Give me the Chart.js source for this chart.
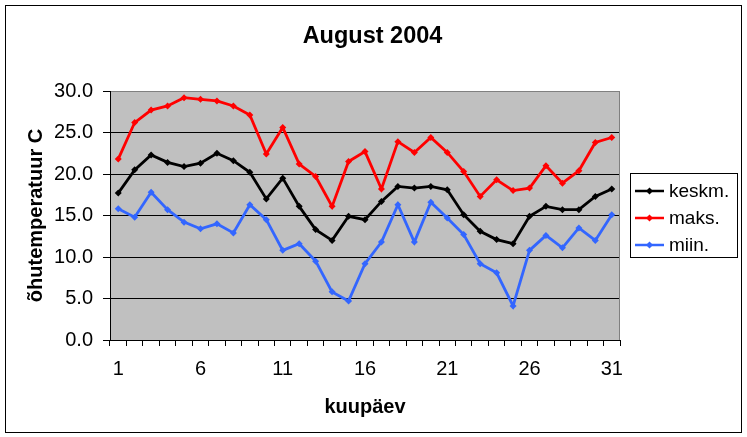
<!DOCTYPE html>
<html>
<head>
<meta charset="utf-8">
<title>August 2004</title>
<script src="https://cdn.jsdelivr.net/npm/chart.js@4.4.1/dist/chart.umd.min.js"></script>
<style>
  html, body { margin: 0; padding: 0; background: #fff; }
  #wrap { width: 747px; height: 437px; }
</style>
</head>
<body>
<div id="wrap"><canvas id="tempChart" width="747" height="437"></canvas></div>
<script>
// --- 1. DATA ---
const days = ['1', '2', '3', '4', '5', '6', '7', '8', '9', '10', '11', '12', '13', '14', '15', '16',
              '17', '18', '19', '20', '21', '22', '23', '24', '25', '26', '27', '28', '29', '30', '31'];
const shownDays = ['1', '6', '11', '16', '21', '26', '31'];
const yTicks = [0, 5, 10, 15, 20, 25, 30];

const keskm = [17.7, 20.5, 22.3, 21.4, 20.9, 21.3, 22.5, 21.6, 20.2, 17.0, 19.5, 16.1, 13.3, 12.0, 14.9, 14.5,
               16.7, 18.5, 18.3, 18.5, 18.1, 15.1, 13.1, 12.1, 11.6, 14.9, 16.1, 15.7, 15.7, 17.3, 18.2];
const maks = [21.8, 26.2, 27.7, 28.2, 29.2, 29.0, 28.8, 28.2, 27.1, 22.4, 25.6, 21.2, 19.7, 16.1, 21.5, 22.7,
              18.2, 23.9, 22.6, 24.4, 22.6, 20.3, 17.3, 19.3, 18.0, 18.3, 21.0, 18.9, 20.4, 23.8, 24.4];
const miin = [15.8, 14.8, 17.8, 15.7, 14.2, 13.4, 14.0, 12.9, 16.3, 14.5, 10.8, 11.6, 9.5, 5.8, 4.7, 9.2,
              11.8, 16.3, 11.8, 16.6, 14.7, 12.7, 9.2, 8.1, 4.1, 10.8, 12.6, 11.1, 13.5, 12.0, 15.1];

const FONT = "'Liberation Sans', Arial, sans-serif";

document.addEventListener('DOMContentLoaded', function() {

    // --- 2. FRAME, TITLE AND BOXED LEGEND ---
    const excelFrame = {
        id: 'excelFrame',
        beforeDraw(chart) {
            const { ctx, chartArea: a } = chart;
            ctx.save();
            ctx.fillStyle = '#ffffff';
            ctx.fillRect(0, 0, chart.width, chart.height);
            ctx.fillStyle = '#c0c0c0';
            ctx.fillRect(a.left, a.top, a.right - a.left, a.bottom - a.top);
            ctx.restore();
        },
        afterDraw(chart) {
            const { ctx, chartArea: a } = chart;
            ctx.save();

            // plot border on the right side
            ctx.strokeStyle = '#808080';
            ctx.lineWidth = 1;
            ctx.beginPath();
            ctx.moveTo(Math.round(a.right) - 0.5, a.top);
            ctx.lineTo(Math.round(a.right) - 0.5, a.bottom);
            ctx.stroke();

            // outer chart border
            ctx.strokeStyle = '#000';
            ctx.strokeRect(5.5, 5.5, chart.width - 11, chart.height - 10);

            // title
            ctx.fillStyle = '#000';
            ctx.font = 'bold 23.5px ' + FONT;
            ctx.textAlign = 'center';
            ctx.textBaseline = 'middle';
            ctx.fillText('August 2004', 372.5, 37);

            // legend
            const lx = 630, ly = 173, lw = 107, lh = 84;
            ctx.fillStyle = '#fff';
            ctx.fillRect(lx, ly, lw, lh);
            ctx.strokeStyle = '#000';
            ctx.strokeRect(lx + 0.5, ly + 0.5, lw, lh);
            ctx.font = '19px ' + FONT;
            ctx.textAlign = 'left';
            chart.data.datasets.forEach((ds, i) => {
                const y = ly + 18 + i * 27;
                ctx.strokeStyle = ds.borderColor;
                ctx.lineWidth = 2.5;
                ctx.beginPath();
                ctx.moveTo(lx + 5, y);
                ctx.lineTo(lx + 34, y);
                ctx.stroke();
                ctx.fillStyle = ds.borderColor;
                ctx.beginPath();
                ctx.moveTo(lx + 19.5, y - 3.5);
                ctx.lineTo(lx + 23, y);
                ctx.lineTo(lx + 19.5, y + 3.5);
                ctx.lineTo(lx + 16, y);
                ctx.closePath();
                ctx.fill();
                ctx.fillStyle = '#000';
                ctx.fillText(ds.label, lx + 39, y + 1);
            });
            ctx.restore();
        }
    };

    // --- 3. CHART ---
    function series(label, data, color) {
        return {
            label: label,
            data: data,
            borderColor: color,
            backgroundColor: color,
            borderWidth: 2.8,
            tension: 0,
            pointStyle: 'rectRot',
            pointRadius: 3.5,
            pointHoverRadius: 3.5,
            pointBorderWidth: 0,
            pointBackgroundColor: color
        };
    }

    new Chart(document.getElementById('tempChart'), {
        type: 'line',
        data: {
            labels: days,
            datasets: [
                series('keskm.', keskm, '#000000'),
                series('maks.', maks, '#ff0000'),
                series('miin.', miin, '#3366ff')
            ]
        },
        options: {
            responsive: false,
            animation: false,
            devicePixelRatio: 1,
            layout: { padding: { left: 24, right: 127, top: 91, bottom: 8 } },
            plugins: {
                legend: { display: false },
                title: { display: false },
                tooltip: { enabled: false }
            },
            scales: {
                x: {
                    offset: true,
                    afterFit: (scale) => { scale.height = 89; },
                    grid: {
                        offset: true,
                        drawOnChartArea: false,
                        drawTicks: true,
                        tickLength: 6,
                        tickColor: '#000'
                    },
                    border: { color: '#000', width: 1 },
                    ticks: {
                        autoSkip: false,
                        maxRotation: 0,
                        padding: 11,
                        color: '#000',
                        font: { family: FONT, size: 20 },
                        callback: function(val, i) {
                            const d = days[i];
                            return shownDays.includes(d) ? d : '';
                        }
                    },
                    title: {
                        display: true,
                        text: 'kuupäev',
                        color: '#000',
                        font: { family: FONT, size: 20, weight: 'bold' },
                        padding: { top: 0, bottom: 10 }
                    }
                },
                y: {
                    min: 0,
                    max: 30,
                    afterFit: (scale) => { scale.width = 86; },
                    afterBuildTicks: (scale) => { scale.ticks = yTicks.map(v => ({ value: v })); },
                    grid: {
                        color: (c) => (c.tick && c.tick.value === 30 ? '#808080' : '#000'),
                        lineWidth: 1,
                        drawTicks: true,
                        tickLength: 7,
                        tickColor: '#000'
                    },
                    border: { color: '#000', width: 1 },
                    ticks: {
                        padding: 10,
                        color: '#000',
                        font: { family: FONT, size: 20 },
                        callback: (v) => Number(v).toFixed(1)
                    },
                    title: {
                        display: true,
                        text: 'õhutemperatuur C',
                        color: '#000',
                        font: { family: FONT, size: 20, weight: 'bold' },
                        padding: { top: 0, bottom: 0 }
                    }
                }
            }
        },
        plugins: [excelFrame]
    });
});
</script>
</body>
</html>
